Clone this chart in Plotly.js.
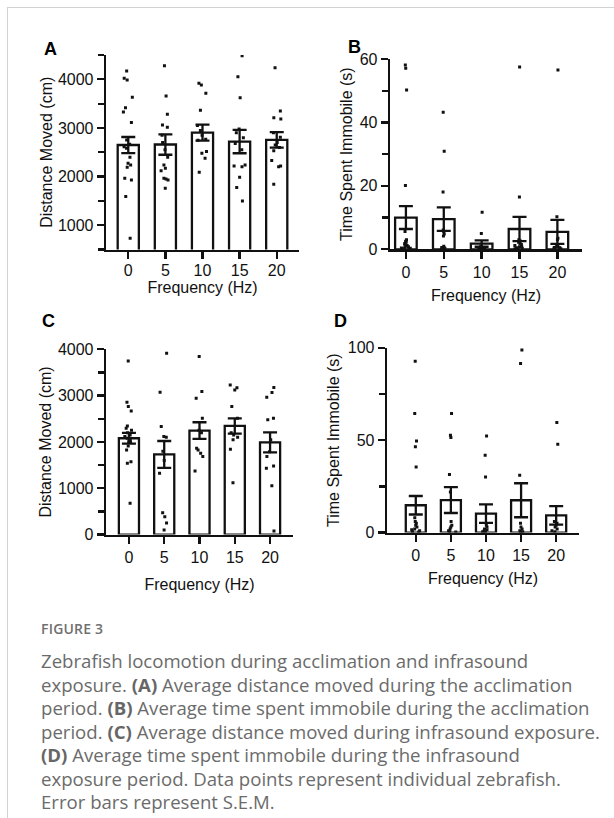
<!DOCTYPE html>
<html>
<head>
<meta charset="utf-8">
<script src="https://cdn.plot.ly/plotly-3.0.1.min.js"></script>
<style>
  html, body { margin: 0; padding: 0; background: #fff; }
  body { width: 614px; height: 818px; position: relative; overflow: hidden; }
  #frame { position: absolute; left: 7px; top: 7px; right: -2px; bottom: -2px;
           border-left: 1.5px solid #d2d2d2; border-top: 1.5px solid #d2d2d2; }
  #plot { position: absolute; left: 0; top: 0; width: 614px; height: 818px; }
  #cap { position: absolute; left: 41px; top: 618px; width: 572px; color: #6b6b6b;
         font-family: 'Open Sans', 'Noto Sans', sans-serif; }
  #cap .fig { font-size: 14px; font-weight: 600; letter-spacing: 0.2px; line-height: 22px; color: #707070; }
  #cap .txt { font-size: 18.6px; line-height: 23.5px; margin-top: 9px; white-space: nowrap; }
  #cap b { font-weight: 700; color: #666; }
</style>
</head>
<body>
<div id="frame"></div>
<div id="plot"></div>
<div id="cap">
  <div class="fig">FIGURE 3</div>
  <div class="txt">Zebrafish locomotion during acclimation and infrasound<br>exposure. <b>(A)</b> Average distance moved during the acclimation<br>period. <b>(B)</b> Average time spent immobile during the acclimation<br>period. <b>(C)</b> Average distance moved during infrasound exposure.<br><b>(D)</b> Average time spent immobile during the infrasound<br>exposure period. Data points represent individual zebrafish.<br>Error bars represent S.E.M.</div>
</div>
<script>
// ---------- data ----------
const categories = ['0', '5', '10', '15', '20'];

// Panel A: distance moved (cm), acclimation
const meanA = [2650, 2660, 2905, 2720, 2755];
const semA  = [165, 210, 165, 240, 160];
const ptsA0  = [4171, 4021, 3986, 3630, 3418, 3329, 3110, 2753, 2664, 2616, 2582, 2397, 2274, 2240, 2192, 1966, 1931, 1589, 733];
const ptsA5  = [4281, 3658, 3281, 3062, 3014, 2850, 2700, 2550, 2400, 2240, 2171, 2123, 1966, 1950, 1931, 1760];
const ptsA10 = [3918, 3884, 3713, 3363, 3050, 2950, 2850, 2767, 2750, 2514, 2480, 2377, 2089];
const ptsA15 = [4486, 4055, 3623, 2979, 2900, 2800, 2680, 2550, 2240, 2220, 2205, 1986, 1774, 1500];
const ptsA20 = [4240, 3349, 3212, 3185, 2900, 2808, 2700, 2650, 2600, 2534, 2329, 2219, 2205, 1842];

// Panel B: time spent immobile (s), acclimation
const meanB = [10.0, 9.5, 1.8, 6.4, 5.5];
const semB  = [3.6, 3.7, 1.0, 3.8, 3.8];
const ptsB0  = [58.1, 57.1, 50.2, 20.1, 5.6, 3.0, 2.5, 2.2, 1.8, 1.5, 1.2, 1.0, 0.8, 0.5, 0.4, 0.3, 0.2, 0.1];
const ptsB5  = [43.2, 30.9, 18.1, 6.1, 5.5, 4.8, 4.2, 1.0, 0.6, 0.5, 0.4, 0.3, 0.2, 0.1];
const ptsB10 = [11.7, 5.0, 1.0, 0.8, 0.6, 0.5, 0.4, 0.3, 0.3, 0.2, 0.2, 0.1, 0.1, 0.1];
const ptsB15 = [57.5, 16.5, 3.0, 2.6, 2.2, 1.8, 1.5, 1.2, 1.0, 0.8, 0.5, 0.3, 0.2, 0.1];
const ptsB20 = [56.5, 10.3, 3.5, 3.0, 1.2, 1.0, 0.8, 0.6, 0.5, 0.4, 0.3, 0.2, 0.1];

// Panel C: distance moved (cm), infrasound exposure
const meanC = [2080, 1730, 2245, 2345, 1990];
const semC  = [115, 290, 180, 165, 215];
const ptsC0  = [3750, 2857, 2763, 2670, 2346, 2296, 2250, 2200, 2150, 2115, 2080, 2040, 2007, 2000, 1914, 1827, 1575, 1540, 676];
const ptsC5  = [3916, 3073, 2331, 2115, 2100, 1800, 1600, 1324, 473, 387, 250, 100];
const ptsC10 = [3843, 3087, 2944, 2512, 2250, 2200, 1864, 1827, 1756, 1684, 1374];
const ptsC15 = [3231, 3170, 3124, 2763, 2512, 2201, 2150, 2100, 2050, 1842, 1121];
const ptsC20 = [3173, 3066, 2966, 2512, 2480, 2050, 1790, 1684, 1482, 1432, 1057, 80];

// Panel D: time spent immobile (s), infrasound exposure
const meanD = [14.8, 17.6, 10.3, 17.5, 9.3];
const semD  = [5.0, 7.0, 5.0, 9.2, 5.0];
const ptsD0  = [92.7, 64.4, 49.6, 46.4, 35.5, 8.0, 6.0, 5.0, 4.0, 3.0, 2.0, 1.5, 1.0, 0.5, 0.3];
const ptsD5  = [64.4, 52.7, 51.4, 31.4, 22.0, 6.0, 4.0, 3.0, 2.0, 1.0, 0.5, 0.3];
const ptsD10 = [52.3, 41.8, 30.1, 4.0, 3.0, 2.0, 1.5, 1.0, 0.5, 0.3];
const ptsD15 = [98.7, 91.5, 31.0, 5.0, 3.0, 2.0, 1.0, 0.5, 0.3];
const ptsD20 = [59.5, 47.8, 6.0, 5.0, 4.0, 3.0, 2.0, 1.0, 0.5];

const xTitle = 'Frequency (Hz)';
const yTitleDist = 'Distance Moved (cm)';
const yTitleImm = 'Time Spent Immobile (s)';
const panelLetters = ['A', 'B', 'C', 'D'];

// ---------- build ----------
const FONT = 'Liberation Sans, Arial, sans-serif';
const INK = '#111';
const FS = 16;

function panelTraces(means, sems, groups, xa, ya) {
  const bar = {
    type: 'bar', x: categories, y: means, xaxis: xa, yaxis: ya,
    width: 0.57, marker: { color: '#fff', line: { color: INK, width: 2.3 } },
    error_y: { type: 'data', array: sems, visible: true, color: INK, thickness: 2.3, width: 7 },
    hoverinfo: 'skip', showlegend: false
  };
  const xs = [], ys = [];
  groups.forEach((g, i) => g.forEach(v => { xs.push(categories[i]); ys.push(v); }));
  const dots = {
    type: 'box', x: xs, y: ys, xaxis: xa, yaxis: ya,
    boxpoints: 'all', jitter: 0.7, pointpos: 0, width: 0.45,
    fillcolor: 'rgba(0,0,0,0)', line: { width: 0, color: 'rgba(0,0,0,0)' },
    marker: { color: INK, size: 3, symbol: 'square' },
    hoverinfo: 'skip', showlegend: false
  };
  return [bar, dots];
}

const data = [].concat(
  panelTraces(meanA, semA, [ptsA0, ptsA5, ptsA10, ptsA15, ptsA20], 'x', 'y'),
  panelTraces(meanB, semB, [ptsB0, ptsB5, ptsB10, ptsB15, ptsB20], 'x2', 'y2'),
  panelTraces(meanC, semC, [ptsC0, ptsC5, ptsC10, ptsC15, ptsC20], 'x3', 'y3'),
  panelTraces(meanD, semD, [ptsD0, ptsD5, ptsD10, ptsD15, ptsD20], 'x4', 'y4')
);

const W = 614, H = 818;
const px = (a, b) => [a / W, b / W];
const py = (top, bottom) => [1 - bottom / H, 1 - top / H];

function xax(dom, anchor, range, standoff, labelShift) {
  return {
    domain: dom, anchor: anchor, type: 'category', range: range,
    showline: true, linewidth: 2.3, linecolor: INK, mirror: false,
    ticks: 'outside', ticklen: 7, tickwidth: 2.3, tickcolor: INK,
    ticklabelstandoff: labelShift || 0,
    showgrid: false, zeroline: false, fixedrange: true,
    tickfont: { family: FONT, size: FS, color: INK },
    title: { text: xTitle, font: { family: FONT, size: FS, color: INK }, standoff: standoff }
  };
}
function yax(dom, anchor, range, dtick, minor, title, standoff) {
  return {
    domain: dom, anchor: anchor, range: range,
    tickmode: 'linear', tick0: 0, dtick: dtick,
    showline: true, linewidth: 2.3, linecolor: INK,
    ticks: 'outside', ticklen: 7, tickwidth: 2.3, tickcolor: INK,
    minor: { dtick: minor, tick0: 0, ticks: 'outside', ticklen: 6, tickwidth: 2.3, tickcolor: INK, showgrid: false },
    showgrid: false, zeroline: false, fixedrange: true,
    tickfont: { family: FONT, size: FS, color: INK },
    title: { text: title, font: { family: FONT, size: FS, color: INK }, standoff: standoff }
  };
}

const letterAnn = (t, x, y) => ({
  text: '<b>' + t + '</b>', xref: 'paper', yref: 'paper', x: x / W, y: 1 - y / H,
  xanchor: 'center', yanchor: 'middle', showarrow: false,
  font: { family: FONT, size: 18, color: '#000' }
});

const layout = {
  width: W, height: H,
  margin: { l: 0, r: 0, t: 0, b: 0 },
  paper_bgcolor: 'rgba(0,0,0,0)', plot_bgcolor: 'rgba(0,0,0,0)',
  barmode: 'overlay', boxmode: 'overlay', showlegend: false,
  xaxis:  xax(px(106, 299), 'y',  [-0.6, 4.6], 0, -2),
  yaxis:  yax(py(55, 249.6), 'x',  [500, 4500], 1000, 500, yTitleDist, 1),
  xaxis2: xax(px(390, 582), 'y2', [-0.42, 4.65], 10),
  yaxis2: yax(py(59, 249.3), 'x2', [0, 60], 20, 10, yTitleImm, 3),
  xaxis3: xax(px(106, 293), 'y3', [-0.65, 4.65], 14),
  yaxis3: yax(py(349.3, 534.6), 'x3', [0, 4000], 1000, 500, yTitleDist, 2),
  xaxis4: xax(px(387, 579), 'y4', [-0.82, 4.65], 10),
  yaxis4: yax(py(347.7, 532.6), 'x4', [0, 100], 50, 25, yTitleImm, 4),
  annotations: [
    letterAnn(panelLetters[0], 50, 49),
    letterAnn(panelLetters[1], 354, 47),
    letterAnn(panelLetters[2], 49, 321),
    letterAnn(panelLetters[3], 340, 321)
  ]
};

Plotly.newPlot('plot', data, layout, { displayModeBar: false, staticPlot: true });
</script>
</body>
</html>
